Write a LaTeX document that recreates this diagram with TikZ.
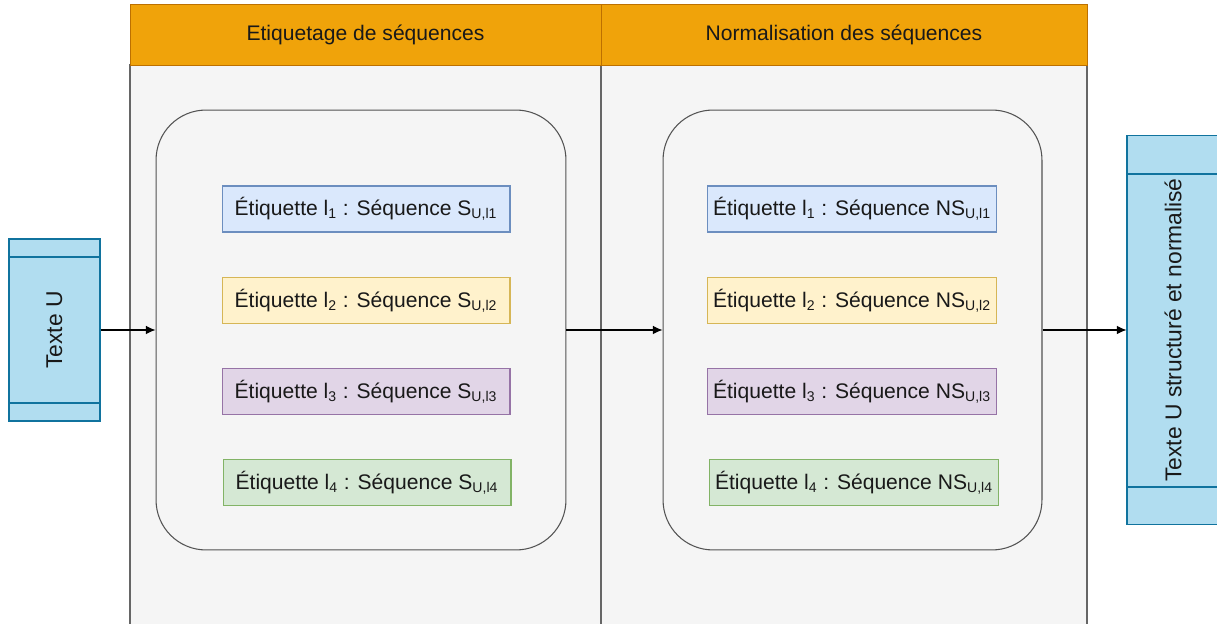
\documentclass[tikz,border=0pt]{standalone}
\usepackage{fontspec}
\setmainfont{Liberation Sans}
\usetikzlibrary{arrows.meta}
\definecolor{headfill}{HTML}{F0A30A}
\definecolor{headdraw}{HTML}{BD7000}
\definecolor{lanefill}{HTML}{F5F5F5}
\definecolor{lanedraw}{HTML}{666666}
\definecolor{docfill}{HTML}{B1DDF0}
\definecolor{docdraw}{HTML}{10739E}
\definecolor{bluefill}{HTML}{DAE8FC}
\definecolor{bluedraw}{HTML}{6C8EBF}
\definecolor{yellowfill}{HTML}{FFF2CC}
\definecolor{yellowdraw}{HTML}{D6B656}
\definecolor{purplefill}{HTML}{E1D5E7}
\definecolor{purpledraw}{HTML}{9673A6}
\definecolor{greenfill}{HTML}{D5E8D4}
\definecolor{greendraw}{HTML}{82B366}
\tikzset{
  txt/.style={font=\fontsize{12}{14}\selectfont, text=black!90},
  bigtxt/.style={font=\fontsize{13}{15}\selectfont, text=black!90},
  lanehead/.style={draw=headdraw, fill=headfill, minimum height=1.22cm, txt},
  lanebody/.style={draw=lanedraw, fill=lanefill, line width=0.6pt},
  group/.style={draw=lanedraw!80!black, fill=lanefill, rounded corners=1cm, minimum height=8.8cm, line width=0.6pt},
  seqbox/.style={minimum width=5.76cm, minimum height=0.92cm, line width=0.6pt, txt},
  doc/.style={draw=docdraw, fill=docfill, line width=0.6pt},
  flow/.style={-{Latex[length=5.5pt,width=5pt]}, line width=0.7pt},
}
\begin{document}
\begin{tikzpicture}[x=0.02cm,y=-0.02cm]
	\useasboundingbox[fill=white] (0,0) rectangle (1217,624);
	% lanes
	\filldraw[lanebody] (130,65) rectangle (601,640);
	\filldraw[lanebody] (601,65) rectangle (1087,640);
	\node[lanehead, minimum width=9.42cm] (hd1) at (365.5,34.5) {Etiquetage de séquences};
	\node[lanehead, minimum width=9.72cm] (hd2) at (844,34.5) {Normalisation des séquences};
	% groups
	\node[group, minimum width=8.2cm] (grp1) at (361,330) {};
	\node[group, minimum width=7.58cm] (grp2) at (852.5,330) {};
	\node[seqbox, draw=bluedraw, fill=bluefill] (s1) at (366,209) {Étiquette l\textsubscript{1} : Séquence S\textsubscript{U,l1}};
	\node[seqbox, draw=yellowdraw, fill=yellowfill] (s2) at (366,300.5) {Étiquette l\textsubscript{2} : Séquence S\textsubscript{U,l2}};
	\node[seqbox, draw=purpledraw, fill=purplefill] (s3) at (366,391.5) {Étiquette l\textsubscript{3} : Séquence S\textsubscript{U,l3}};
	\node[seqbox, draw=greendraw, fill=greenfill] (s4) at (367,482.5) {Étiquette l\textsubscript{4} : Séquence S\textsubscript{U,l4}};
	\node[seqbox, draw=bluedraw, fill=bluefill] (ns1) at (852,209) {Étiquette l\textsubscript{1} : Séquence NS\textsubscript{U,l1}};
	\node[seqbox, draw=yellowdraw, fill=yellowfill] (ns2) at (852,300.5) {Étiquette l\textsubscript{2} : Séquence NS\textsubscript{U,l2}};
	\node[seqbox, draw=purpledraw, fill=purplefill] (ns3) at (852,391.5) {Étiquette l\textsubscript{3} : Séquence NS\textsubscript{U,l3}};
	\node[seqbox, draw=greendraw, fill=greenfill] (ns4) at (854,482.5) {Étiquette l\textsubscript{4} : Séquence NS\textsubscript{U,l4}};
	% input / output documents
	\node[doc, minimum width=1.82cm, minimum height=3.64cm] (texteU) at (54.5,330) {};
	\draw[docdraw, line width=0.6pt] (9,257) -- (100,257) (9,403) -- (100,403);
	\node[bigtxt, rotate=90] at (texteU) {Texte U};
	\node[doc, minimum width=1.84cm, minimum height=7.8cm] (out) at (1173,330) {};
	\draw[docdraw, line width=0.6pt] (1127,174) -- (1219,174) (1127,487) -- (1219,487);
	\node[bigtxt, rotate=90] at (out) {Texte U structuré et normalisé};
	% flow
	\draw[flow] (texteU) -- (grp1);
	\draw[flow] (grp1) -- (grp2);
	\draw[flow] (grp2) -- (out);
\end{tikzpicture}
\end{document}
